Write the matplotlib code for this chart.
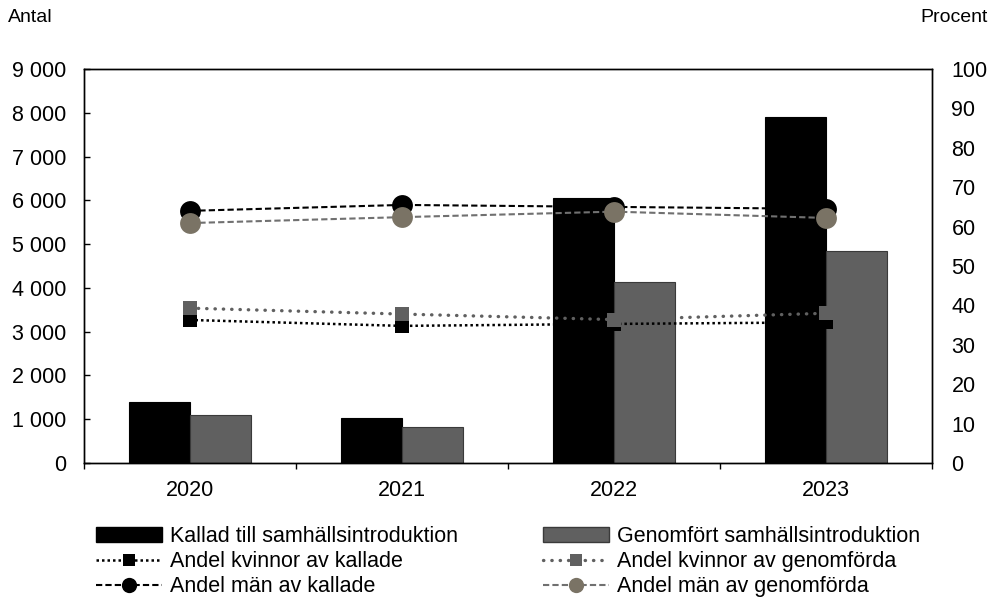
import numpy as np
import matplotlib
matplotlib.use('Agg')
import matplotlib.pyplot as plt
from matplotlib.ticker import FuncFormatter, FixedLocator
from matplotlib.lines import Line2D
from matplotlib.patches import Patch

plt.rcParams['font.family'] = ['Liberation Sans', 'DejaVu Sans']

years = ['2020', '2021', '2022', '2023']
kallade = [1390, 1030, 6050, 7900]
genomfort = [1090, 820, 4130, 4840]
kvinnor_kallade = [36.3, 34.8, 35.3, 35.7]
kvinnor_genomforda = [39.3, 37.8, 36.4, 38.0]
man_kallade = [64.0, 65.5, 65.0, 64.5]
man_genomforda = [60.9, 62.4, 63.8, 62.2]

black = '#000000'
bar_gray = '#606060'
sq_gray = '#606060'
circ_gray = '#7a7365'
fs = 15.5

fig = plt.figure(figsize=(9.92, 6.13), dpi=100)
ax = fig.add_axes([84 / 992, 1 - 463 / 613, (932 - 84) / 992, (463 - 69) / 613])

x = np.arange(len(years))
w = 0.288
ax.bar(x - w / 2, kallade, w, color=black, edgecolor=black, linewidth=0.8, zorder=2)
ax.bar(x + w / 2, genomfort, w, color=bar_gray, edgecolor='#3a3a3a', linewidth=0.8, zorder=2)

ax.set_xlim(-0.5, 3.5)
ax.set_ylim(0, 9000)
ax.set_yticks(range(0, 9001, 1000))
ax.yaxis.set_major_formatter(FuncFormatter(lambda v, _: f"{int(v):,}".replace(',', ' ')))
ax.tick_params(axis='y', direction='in', length=4, width=1, labelsize=fs, pad=13)
ax.set_xticks(x)
ax.set_xticklabels(years)
ax.tick_params(axis='x', which='major', length=0, labelsize=fs, pad=12)
ax.xaxis.set_minor_locator(FixedLocator([-0.5, 0.5, 1.5, 2.5, 3.5]))
ax.tick_params(axis='x', which='minor', direction='out', length=4, width=1)
for s in ax.spines.values():
    s.set_linewidth(1)
    s.set_color('black')

ax2 = ax.twinx()
ax2.set_ylim(0, 100)
ax2.set_yticks(range(0, 101, 10))
ax2.tick_params(axis='y', length=0, labelsize=fs, pad=14)
for s in ax2.spines.values():
    s.set_linewidth(1)

ax2.plot(x, kvinnor_kallade, color=black, lw=1.8, linestyle=(0, (1, 1.2)),
         marker='s', markersize=10, markeredgewidth=0, zorder=3)
ax2.plot(x, kvinnor_genomforda, color=sq_gray, lw=2.4, linestyle=(0, (0.1, 2.4)),
         dash_capstyle='round', marker='s', markersize=10, markeredgewidth=0, zorder=4)
ax2.plot(x, man_kallade, color=black, lw=1.5, linestyle=(0, (3, 1.5)),
         marker='o', markersize=15, markeredgewidth=0, zorder=5)
ax2.plot(x, man_genomforda, color='#707070', lw=1.5, linestyle=(0, (3, 1.5)),
         marker='o', markersize=15, markerfacecolor=circ_gray, markeredgewidth=0, zorder=6)

fig.text(8 / 992, 1 - 18 / 613, 'Antal', fontsize=14, va='center', ha='left')
fig.text(988 / 992, 1 - 18 / 613, 'Procent', fontsize=14, va='center', ha='right')

h1 = [Patch(facecolor=black, edgecolor=black),
      Line2D([], [], color=black, lw=1.8, linestyle=(0, (1, 1.2)), marker='s',
             markersize=9, markeredgewidth=0),
      Line2D([], [], color=black, lw=1.5, linestyle=(0, (3, 1.5)), marker='o',
             markersize=11, markeredgewidth=0)]
l1 = ['Kallad till samhällsintroduktion', 'Andel kvinnor av kallade', 'Andel män av kallade']
h2 = [Patch(facecolor=bar_gray, edgecolor='#3a3a3a'),
      Line2D([], [], color=sq_gray, lw=2.4, linestyle=(0, (0.1, 2.4)), dash_capstyle='round',
             marker='s', markersize=9, markeredgewidth=0),
      Line2D([], [], color='#707070', lw=1.5, linestyle=(0, (3, 1.5)), marker='o',
             markersize=11, markerfacecolor=circ_gray, markeredgewidth=0)]
l2 = ['Genomfört samhällsintroduktion', 'Andel kvinnor av genomförda', 'Andel män av genomförda']

for hs, ls, x0 in [(h1, l1, 96), (h2, l2, 543)]:
    fig.legend(hs, ls, loc='upper left', bbox_to_anchor=(x0 / 992, 1 - 526 / 613),
               frameon=False, fontsize=fs, handlelength=3.05, handleheight=0.7,
               handletextpad=0.38, labelspacing=0.19, borderpad=0, borderaxespad=0)

plt.savefig('out.png', dpi=100)
